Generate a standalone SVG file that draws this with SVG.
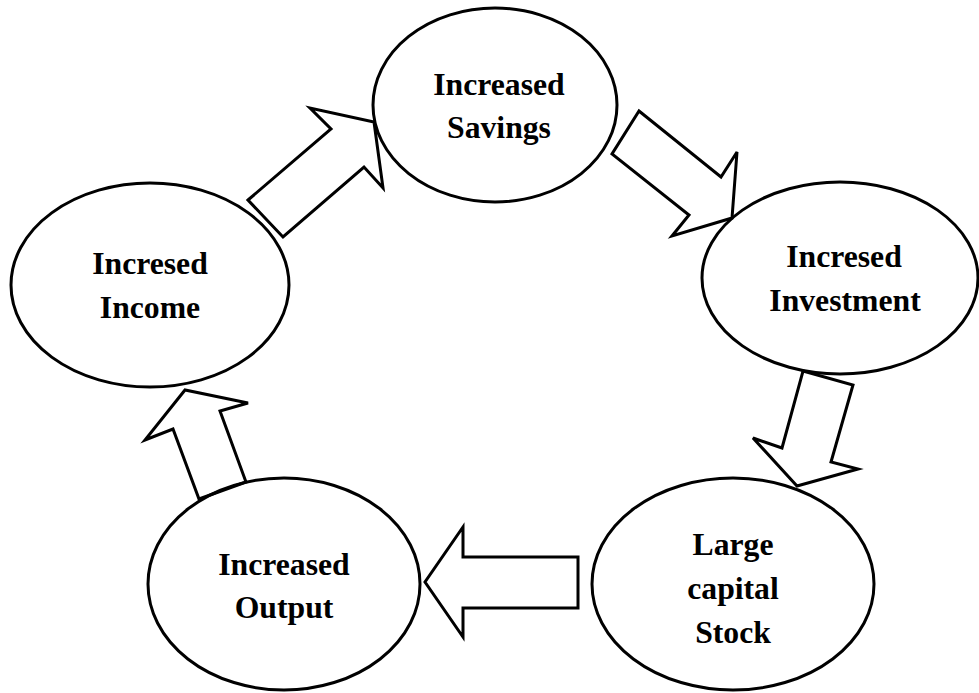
<svg xmlns="http://www.w3.org/2000/svg" width="979" height="693" viewBox="0 0 979 693">
<style>
.n{fill:none;stroke:#000;stroke-width:3}
.a{fill:none;stroke:#000;stroke-width:3;stroke-linejoin:miter}
.t{font-family:"Liberation Serif","Times New Roman",serif;font-weight:bold;font-size:31.7px;text-anchor:middle;fill:#000}
</style>
<rect width="979" height="693" fill="#fff"/>
<g id="savings"><ellipse class="n" cx="495" cy="105" rx="122" ry="97"/><text class="t" x="499" y="95">Increased</text><text class="t" x="499" y="138">Savings</text></g>
<g id="income"><ellipse class="n" cx="150" cy="285" rx="139" ry="102"/><text class="t" x="150" y="274">Incresed</text><text class="t" x="150" y="318">Income</text></g>
<g id="investment"><ellipse class="n" cx="840" cy="278" rx="138" ry="96"/><text class="t" x="844" y="267">Incresed</text><text class="t" x="845" y="311">Investment</text></g>
<g id="stock"><ellipse class="n" cx="733" cy="584" rx="141" ry="106"/><text class="t" x="733" y="555">Large</text><text class="t" x="733" y="599">capital</text><text class="t" x="733" y="643">Stock</text></g>
<g id="output"><ellipse class="n" cx="284" cy="584" rx="136" ry="106"/><text class="t" x="284" y="575">Increased</text><text class="t" x="284" y="618">Output</text></g>
<g id="connectors">
<polygon class="a" points="248,200 331,129 310,108 374,122 383,188 364,167 283,237"/>
<polygon class="a" points="639,111 721,177 737,152 732,218 672,236 689,215 612,154"/>
<polygon class="a" points="803,371 853,385 831,462 858,469 797,486 753,438 782,448"/>
<polygon class="a" points="578,557 578,608 463,608 463,637 425,582 463,527 463,557"/>
<polygon class="a" points="199,499 246,482 220,411 248,403 185,390 145,440 173,429"/>
</g>
</svg>
